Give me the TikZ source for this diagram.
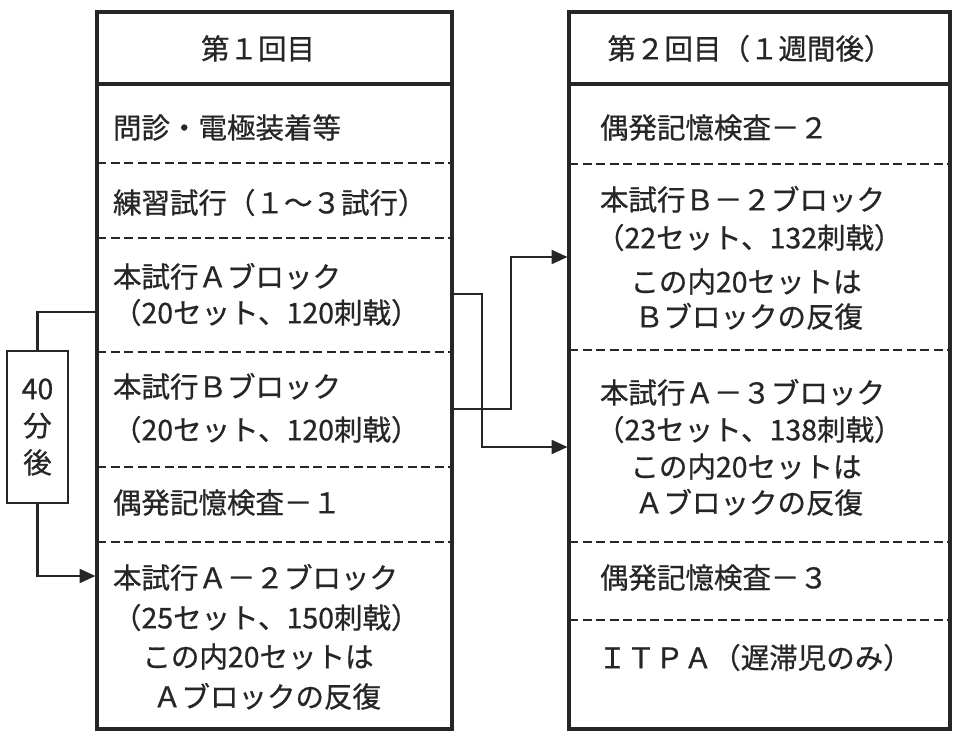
\documentclass[tikz,border=0pt]{standalone}
\usepackage{fontspec}
\setmainfont{Noto Sans CJK JP}[FakeBold=0.7]
\usetikzlibrary{arrows.meta}
\definecolor{ink}{gray}{0.15}
\begin{document}
\begin{tikzpicture}[x=1pt,y=-1pt,
  frame/.style={draw=ink, line width=4.5pt, inner sep=0pt, outer sep=0pt, anchor=north west},
  txt/.style={font=\fontsize{28.5pt}{37pt}\selectfont, text=ink, inner sep=0pt, outer sep=0pt, text height=24.5pt, text depth=3.8pt},
  lt/.style={txt, anchor=west},
  sep/.style={draw=ink, line width=1.5pt, dash pattern=on 9pt off 4.5pt},
  headline/.style={draw=ink, line width=4.5pt},
  conn/.style={draw=ink, line width=2.2pt},
  arr/.style={conn, -{Triangle[length=16pt,width=14pt]}, shorten >=1.5pt},
]
\useasboundingbox (0,0) rectangle (954,734);
\fill[white] (0,0) rectangle (954,734);

% main boxes
\node[frame, minimum width=355pt, minimum height=717pt] (L) at (97,12) {};
\node[frame, minimum width=381pt, minimum height=717pt] (R) at (569,12) {};

% header rules
\coordinate (hy) at (0,84);
\draw[headline] (L.west |- hy) -- (L.east |- hy);
\draw[headline] (R.west |- hy) -- (R.east |- hy);

% dashed separators
\foreach \yy in {163,238,352,467,542}{
  \coordinate (ls) at (0,\yy);
  \draw[sep] (L.west |- ls) -- (L.east |- ls);
}
\foreach \yy in {164,350,542,620}{
  \coordinate (rs) at (0,\yy);
  \draw[sep] (R.west |- rs) -- (R.east |- rs);
}

% left column texts
\node[txt] (t0) at (258,49) {第１回目};
\node[lt] (t1) at (113,128) {問診・電極装着等};
\node[lt] (t2) at (113,203) {練習試行（１～３試行）};
\node[lt] (t3) at (113,277) {本試行Ａブロック};
\node[lt] (t4) at (113,313) {（20セット、120刺戟）};
\node[lt] (t5) at (113,387) {本試行Ｂブロック};
\node[lt] (t6) at (113,430) {（20セット、120刺戟）};
\node[lt] (t7) at (113,503) {偶発記憶検査－１};
\node[lt] (t8) at (113,578) {本試行Ａ－２ブロック};
\node[lt] (t9) at (113,618) {（25セット、150刺戟）};
\node[txt] (t10) at (258,657) {この内20セットは};
\node[txt] (t11) at (267,697) {Ａブロックの反復};

% right column texts
\node[txt] (u0) at (750,49) {第２回目（１週間後）};
\node[lt] (u1) at (600,128) {偶発記憶検査－２};
\node[lt] (u2) at (600,200) {本試行Ｂ－２ブロック};
\node[lt] (u3) at (596,238) {（22セット、132刺戟）};
\node[txt] (u4) at (746,282) {この内20セットは};
\node[txt] (u5) at (749,317) {Ｂブロックの反復};
\node[lt] (u6) at (600,393) {本試行Ａ－３ブロック};
\node[lt] (u7) at (596,430) {（23セット、138刺戟）};
\node[txt] (u8) at (746,467) {この内20セットは};
\node[txt] (u9) at (749,503) {Ａブロックの反復};
\node[lt] (u10) at (600,578) {偶発記憶検査－３};
\node[txt] (u11) at (755,658) {ＩＴＰＡ（遅滞児のみ）};

% 40 minutes box
\node[draw=ink, line width=2.2pt, minimum width=61pt, minimum height=152pt, inner sep=0pt, outer sep=0pt, anchor=north west,
      text=ink, align=center, font=\fontsize{28.5pt}{37pt}\selectfont] (W) at (7,351) {40\\分\\後};

% connectors between the sessions
\coordinate (p1) at (482,294);
\coordinate (p2) at (482,447);
\draw[arr] (L.east |- p1) -- (p1) -- (p2) -- (R.west |- p2);
\coordinate (q1) at (511,409);
\coordinate (q2) at (511,257);
\draw[arr] (L.east |- q1) -- (q1) -- (q2) -- (R.west |- q2);

% 40-minute loop
\coordinate (r1) at (37.5,312);
\draw[conn] (L.west |- r1) -- (r1) -- (W.north);
\coordinate (r2) at (37.5,576);
\draw[arr] (W.south) -- (r2) -- (L.west |- r2);
\end{tikzpicture}
\end{document}
